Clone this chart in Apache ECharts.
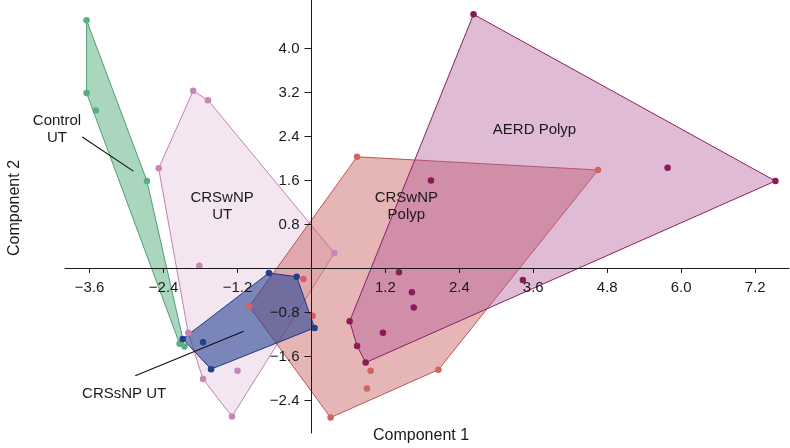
<!DOCTYPE html>
<html>
<head>
<meta charset="utf-8">
<script src="https://cdn.jsdelivr.net/npm/echarts@6/dist/echarts.min.js"></script>
<style>
html,body{margin:0;padding:0;background:#fff;}
#chart{width:790px;height:448px;}
</style>
</head>
<body>
<div id="chart"></div>
<script>
// ---- data (PCA scores) ----
const controlUT   = [[-3.65,4.50],[-3.65,3.18],[-3.50,2.86],[-2.67,1.58],[-2.14,-1.38],[-2.06,-1.43]];
const crswnpUT    = [[-1.92,3.22],[-1.68,3.05],[-2.48,1.81],[-1.82,0.04],[-2.00,-1.18],[-1.76,-2.02],[-1.20,-1.87],[-1.29,-2.70],[0.37,0.27]];
const crssnpUT    = [[-0.69,-0.09],[-0.24,-0.16],[0.05,-1.09],[-1.63,-1.84],[-2.09,-1.29],[-1.76,-1.35]];
const crswnpPolyp = [[0.74,2.02],[4.65,1.78],[2.06,-1.85],[0.31,-2.72],[-1.01,-0.70],[-0.13,-0.20],[0.02,-0.87],[0.96,-1.87],[0.90,-2.19]];
const aerdPolyp   = [[2.63,4.61],[7.53,1.58],[5.78,1.82],[1.94,1.59],[1.42,-0.08],[1.63,-0.44],[1.66,-0.72],[0.62,-0.97],[1.16,-1.18],[0.74,-1.42],[0.88,-1.72],[3.43,-0.22]];

const xTicks = [-3.6,-2.4,-1.2,1.2,2.4,3.6,4.8,6.0,7.2];
const yTicks = [-2.4,-1.6,-0.8,0.8,1.6,2.4,3.2,4.0];

// group annotations (data coordinates)
const labelTexts = ['Control\nUT','CRSwNP\nUT','CRSwNP\nPolyp','AERD Polyp','CRSsNP UT'];
const labelX     = [-4.13,-1.45,1.54,3.62,-3.04];
const labelY     = [2.51,1.12,1.12,2.51,-2.28];
const leaderFrom = [[-3.72,2.38],[-2.86,-1.96]];
const leaderTo   = [[-2.89,1.76],[-1.10,-1.15]];

// ---- helpers ----
function hull(points){
  const p = points.slice().sort((a,b)=>a[0]-b[0]||a[1]-b[1]);
  const cross=(o,a,b)=>(a[0]-o[0])*(b[1]-o[1])-(a[1]-o[1])*(b[0]-o[0]);
  const lo=[],up=[];
  for(const q of p){while(lo.length>=2&&cross(lo[lo.length-2],lo[lo.length-1],q)<=0)lo.pop();lo.push(q);}
  for(let i=p.length-1;i>=0;i--){const q=p[i];while(up.length>=2&&cross(up[up.length-2],up[up.length-1],q)<=0)up.pop();up.push(q);}
  up.pop();lo.pop();return lo.concat(up);
}
const FONT = '"Liberation Sans", Arial, Helvetica, sans-serif';
const INK = '#1a1a1a';

function groupSeries(name, pts, fill, stroke, dot){
  const h = hull(pts);
  return [
    {
      type:'custom', name:name+' hull', data:pts, encode:{x:0,y:1}, z:2, silent:true,
      renderItem:function(params, api){
        if(params.dataIndex!==0) return null;
        return {type:'polygon', shape:{points:h.map(q=>api.coord(q))},
          style:{fill:fill, stroke:stroke, lineWidth:1}};
      }
    },
    {
      type:'scatter', name:name, data:pts, symbolSize:6.5, z:5, clip:false,
      itemStyle:{color:dot, opacity:1}
    }
  ];
}

const series = [].concat(
  groupSeries('CRSwNP UT', crswnpUT, 'rgba(205,140,190,0.22)', '#c283b3', '#c985b8'),
  groupSeries('Control UT', controlUT, 'rgba(80,170,120,0.48)', '#4f9e76', '#5aae84'),
  groupSeries('CRSwNP Polyp', crswnpPolyp, 'rgba(200,90,90,0.45)', '#b95656', '#cf6563'),
  groupSeries('CRSsNP UT', crssnpUT, 'rgba(40,70,150,0.6)', '#22387f', '#233e8b'),
  groupSeries('AERD Polyp', aerdPolyp, 'rgba(175,85,150,0.4)', '#8a2060', '#8c1a5b')
);

const fmt = v => (v<0?'\u2212':'') + Math.abs(v).toFixed(1);

// tick labels that sit next to the axes crossing at the origin
series.push({
  type:'custom', name:'xTickLabels', silent:true, z:9, clip:false,
  data: xTicks.map(v=>[v,0]), encode:{x:0,y:1},
  renderItem:function(params, api){
    const v = xTicks[params.dataIndex];
    const pt = api.coord([v,0]);
    return {type:'text', x:pt[0], y:pt[1]+20,
      style:{text:fmt(v), fill:INK, font:'15px '+FONT, align:'center', verticalAlign:'middle'}};
  }
});
series.push({
  type:'custom', name:'yTickLabels', silent:true, z:9, clip:false,
  data: yTicks.map(v=>[0,v]), encode:{x:0,y:1},
  renderItem:function(params, api){
    const v = yTicks[params.dataIndex];
    const pt = api.coord([0,v]);
    return {type:'text', x:pt[0]-12, y:pt[1]+0.5,
      style:{text:fmt(v), fill:INK, font:'15px '+FONT, align:'right', verticalAlign:'middle'}};
  }
});

// annotations
series.push({
  type:'custom', name:'labels', silent:true, z:8, clip:false,
  data: labelX.map((x,i)=>[x,labelY[i]]),
  encode:{x:0,y:1},
  renderItem:function(params, api){
    const i = params.dataIndex;
    const pt = api.coord([labelX[i], labelY[i]]);
    return {type:'text', x:pt[0], y:pt[1],
      style:{text:labelTexts[i], fill:INK, font:'15px '+FONT, align:'center', verticalAlign:'middle', lineHeight:17}};
  }
});
series.push({
  type:'custom', name:'leaders', silent:true, z:8, clip:false,
  data: leaderFrom.map((a,i)=>[a[0],a[1],leaderTo[i][0],leaderTo[i][1]]),
  encode:{x:[0,2],y:[1,3]},
  renderItem:function(params, api){
    const i = params.dataIndex;
    const a = api.coord(leaderFrom[i]), b = api.coord(leaderTo[i]);
    return {type:'line', shape:{x1:a[0],y1:a[1],x2:b[0],y2:b[1]}, style:{stroke:'#111', lineWidth:1.1}};
  }
});

const chart = echarts.init(document.getElementById('chart'), null, {renderer:'canvas'});
chart.setOption({
  animation:false,
  backgroundColor:'#fff',
  grid:{left:65, right:1, top:0, bottom:15, containLabel:false, outerBoundsMode:'none'},
  xAxis:{
    type:'value', min:-4.0, max:7.75, z:10,
    axisLine:{show:true, onZero:true, lineStyle:{color:INK, width:1}},
    axisTick:{show:true, length:5, customValues:xTicks, lineStyle:{color:INK}},
    axisLabel:{show:false},
    splitLine:{show:false}
  },
  yAxis:{
    type:'value', min:-3.0, max:4.87, z:10,
    axisLine:{show:true, onZero:true, lineStyle:{color:INK, width:1}},
    axisTick:{show:true, length:7, customValues:yTicks, lineStyle:{color:INK}},
    axisLabel:{show:false},
    splitLine:{show:false}
  },
  graphic:[
    {type:'text', left:373, top:428, style:{text:'Component 1', fill:INK, font:'16px '+FONT}},
    {type:'text', x:15, y:208, rotation:Math.PI/2, style:{text:'Component 2', fill:INK, font:'16px '+FONT, align:'center', verticalAlign:'middle'}}
  ],
  series:series
});
</script>
</body>
</html>
